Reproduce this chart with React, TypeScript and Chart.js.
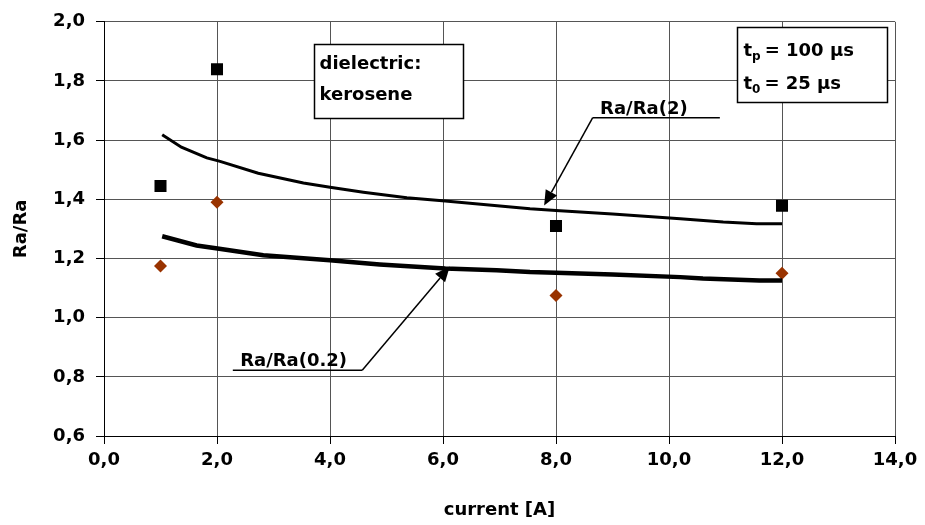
import React, { useEffect, useRef } from "react";
import { Chart, registerables } from "chart.js";

Chart.register(...registerables);

// ---- data ----
const currentPoints = [1, 2, 8, 12];
const ratioSquares = [1.445, 1.84, 1.31, 1.378];
const ratioDiamonds = [1.175, 1.39, 1.075, 1.15];

const upperCurveX = [1.03, 1.37, 1.82, 2.04, 2.73, 3.53, 4.0, 4.59, 5.36, 6.04, 7.54, 8.0, 9.0, 10.2, 10.55, 10.96, 11.55, 12.0];
const upperCurveY = [1.618, 1.576, 1.54, 1.529, 1.488, 1.455, 1.441, 1.424, 1.405, 1.394, 1.368, 1.362, 1.35, 1.334, 1.329, 1.323, 1.317, 1.317];
const lowerCurveX = [1.03, 1.64, 2.04, 2.82, 4.0, 4.88, 6.04, 6.95, 7.54, 8.0, 9.0, 10.2, 10.6, 11.6, 12.0];
const lowerCurveY = [1.275, 1.244, 1.233, 1.211, 1.194, 1.18, 1.166, 1.16, 1.154, 1.152, 1.146, 1.137, 1.132, 1.126, 1.126];

const xTickValues = [0, 2, 4, 6, 8, 10, 12, 14];
const xTickLabels = ["0,0", "2,0", "4,0", "6,0", "8,0", "10,0", "12,0", "14,0"];
const yTickValues = [0.6, 0.8, 1.0, 1.2, 1.4, 1.6, 1.8, 2.0];
const yTickLabels = ["0,6", "0,8", "1,0", "1,2", "1,4", "1,6", "1,8", "2,0"];

const FONT = "'DejaVu Sans', sans-serif";
const SIZE = 18;

function labelFor(values: number[], labels: string[], v: number) {
  for (let i = 0; i < values.length; i++) {
    if (Math.abs(values[i] - v) < 1e-6) return labels[i];
  }
  return "";
}

const annotationPlugin = {
  id: "annotations",
  afterDatasetsDraw(chart: any) {
    const { ctx, scales } = chart;
    const X = (v: number) => scales.x.getPixelForValue(v);
    const Y = (v: number) => scales.y.getPixelForValue(v);
    ctx.save();
    ctx.fillStyle = "#000";
    ctx.strokeStyle = "#000";
    ctx.textBaseline = "alphabetic";
    ctx.textAlign = "left";

    const box = (x1: number, y1: number, x2: number, y2: number) => {
      const l = Math.round(X(x1)) + 0.5, r = Math.round(X(x2)) + 0.5;
      const t = Math.round(Y(y1)) + 0.5, b = Math.round(Y(y2)) + 0.5;
      ctx.fillStyle = "#fff";
      ctx.fillRect(l, t, r - l, b - t);
      ctx.lineWidth = 1.5;
      ctx.strokeStyle = "#000";
      ctx.strokeRect(l, t, r - l, b - t);
      ctx.fillStyle = "#000";
      return { l, t };
    };

    const mainFont = `bold ${SIZE}px ${FONT}`;
    const subFont = `bold 12px ${FONT}`;

    // dielectric box
    const b1 = box(3.72, 1.926, 6.35, 1.676);
    ctx.font = mainFont;
    ctx.fillText("dielectric:", b1.l + 5, Y(1.841));
    ctx.fillText("kerosene", b1.l + 5, Y(1.737));

    // pulse box
    const b2 = box(11.2, 1.983, 13.86, 1.73);
    const subLine = (sub: string, rest: string, yv: number) => {
      let cx = b2.l + 6;
      const by = Y(yv);
      ctx.font = mainFont;
      ctx.fillText("t", cx, by);
      cx += ctx.measureText("t").width;
      ctx.font = subFont;
      ctx.fillText(sub, cx, by + 4);
      cx += ctx.measureText(sub).width + 4;
      ctx.font = mainFont;
      ctx.fillText(rest, cx, by);
    };
    subLine("p", "= 100 µs", 1.885);
    subLine("0", "= 25 µs", 1.774);

    const arrow = (x0: number, y0: number, x1: number, y1: number) => {
      const ax = X(x0), ay = Y(y0), bx = X(x1), by = Y(y1);
      const ang = Math.atan2(by - ay, bx - ax);
      const len = 15, half = 6.5;
      const baseX = bx - Math.cos(ang) * len, baseY = by - Math.sin(ang) * len;
      ctx.lineWidth = 1.5;
      ctx.beginPath();
      ctx.moveTo(ax, ay);
      ctx.lineTo(baseX, baseY);
      ctx.stroke();
      ctx.beginPath();
      ctx.moveTo(bx, by);
      ctx.lineTo(baseX - Math.sin(ang) * half, baseY + Math.cos(ang) * half);
      ctx.lineTo(baseX + Math.sin(ang) * half, baseY - Math.cos(ang) * half);
      ctx.closePath();
      ctx.fill();
    };
    const hline = (x0: number, x1: number, yv: number) => {
      ctx.lineWidth = 1.5;
      ctx.beginPath();
      ctx.moveTo(X(x0), Y(yv));
      ctx.lineTo(X(x1), Y(yv));
      ctx.stroke();
    };

    // Ra/Ra(2) label
    ctx.font = mainFont;
    ctx.fillText("Ra/Ra(2)", X(8.78), Y(1.69));
    hline(8.65, 10.9, 1.676);
    arrow(8.65, 1.676, 7.79, 1.379);

    // Ra/Ra(0.2) label
    ctx.font = mainFont;
    ctx.fillText("Ra/Ra(0.2)", X(2.41), Y(0.836));
    hline(2.28, 4.57, 0.822);
    arrow(4.57, 0.822, 6.12, 1.173);

    ctx.restore();
  },
};

export default function App() {
  const ref = useRef<HTMLCanvasElement | null>(null);
  useEffect(() => {
    if (!ref.current) return;
    const toXY = (xs: number[], ys: number[]) => xs.map((x, i) => ({ x, y: ys[i] }));
    const chart = new Chart(ref.current, {
      type: "scatter",
      data: {
        datasets: [
          {
            label: "Ra/Ra(2)",
            data: toXY(upperCurveX, upperCurveY),
            showLine: true,
            borderColor: "#000",
            borderWidth: 3,
            pointRadius: 0,
            tension: 0,
          },
          {
            label: "Ra/Ra(0.2)",
            data: toXY(lowerCurveX, lowerCurveY),
            showLine: true,
            borderColor: "#000",
            borderWidth: 4.5,
            pointRadius: 0,
            tension: 0,
          },
          {
            label: "squares",
            data: toXY(currentPoints, ratioSquares),
            pointStyle: "rect",
            pointRadius: 8.5,
            backgroundColor: "#000",
            borderColor: "#000",
            borderWidth: 0,
          },
          {
            label: "diamonds",
            data: toXY(currentPoints, ratioDiamonds),
            pointStyle: "rectRot",
            pointRadius: 6.5,
            backgroundColor: "#993300",
            borderColor: "#993300",
            borderWidth: 0,
          },
        ],
      },
      options: {
        responsive: false,
        animation: false,
        devicePixelRatio: 1,
        layout: { padding: { top: 21, right: 30, left: 0, bottom: 0 } },
        plugins: { legend: { display: false }, tooltip: { enabled: false } },
        scales: {
          x: {
            type: "linear",
            min: 0,
            max: 14,
            afterFit: (s: any) => { s.height = 89; },
            afterBuildTicks: (s: any) => { s.ticks = xTickValues.map((v) => ({ value: v })); },
            ticks: {
              color: "#000",
              font: { family: FONT, size: SIZE, weight: "bold" },
              padding: 6,
              maxRotation: 0,
              callback: (v: any) => labelFor(xTickValues, xTickLabels, Number(v)),
            },
            grid: { color: "#555", lineWidth: 1, tickLength: 8, tickColor: "#000" },
            border: { color: "#000", width: 1 },
            title: {
              display: true,
              text: "current [A]",
              color: "#000",
              font: { family: FONT, size: SIZE, weight: "bold" },
              padding: { top: 0, bottom: 4 },
            },
          },
          y: {
            type: "linear",
            min: 0.6,
            max: 2.0,
            afterFit: (s: any) => { s.width = 104; },
            afterBuildTicks: (s: any) => { s.ticks = yTickValues.map((v) => ({ value: v })); },
            ticks: {
              color: "#000",
              font: { family: FONT, size: SIZE, weight: "bold" },
              padding: 11,
              callback: (v: any) => labelFor(yTickValues, yTickLabels, Number(v)),
            },
            grid: { color: "#555", lineWidth: 1, tickLength: 8, tickColor: "#000" },
            border: { color: "#000", width: 1 },
            title: {
              display: true,
              text: "Ra/Ra",
              color: "#000",
              font: { family: FONT, size: SIZE, weight: "bold" },
              padding: { top: 11, bottom: 0 },
            },
          },
        },
      },
      plugins: [annotationPlugin],
    });
    return () => chart.destroy();
  }, []);

  return (
    <div style={{ position: "absolute", left: 0, top: 0, width: 925, height: 525, background: "#fff" }}>
      <canvas ref={ref} width={925} height={525} style={{ display: "block" }} />
    </div>
  );
}
